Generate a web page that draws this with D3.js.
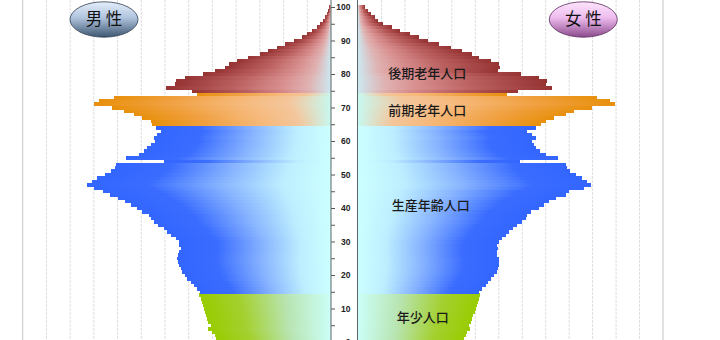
<!DOCTYPE html>
<html lang="ja">
<head>
  <meta charset="utf-8">
  <title>人口ピラミッド</title>
  <script src="https://d3js.org/d3.v7.min.js"></script>
  <style>
    body { margin: 0; background: #fff; }
    svg { display: block; }
  </style>
</head>
<body>

<svg width="720" height="340"></svg>

<script>
  // 年齢 (0〜100歳)
  const ages = d3.range(0, 101);

  // 男性 人口 (人)
  const male = [
    4750, 4830, 4910, 5000, 5170, 5080, 5170, 5210, 5250, 5300,
    5340, 5380, 5420, 5470, 5550, 5510, 5640, 5760, 5890, 6060,
    6140, 6270, 6310, 6400, 6440, 6480, 6440, 6400, 6310, 6400,
    6400, 6530, 6740, 6910, 7030, 7290, 7460, 7580, 7670, 7970,
    8180, 8430, 8690, 8980, 9320, 9620, 10000, 10300, 10080, 9870,
    9530, 9280, 9110, 9070, 7030, 8640, 8090, 7880, 7750, 7580,
    7410, 7460, 7330, 7160, 7370, 7540, 7580, 7970, 8300, 8730,
    9240, 10000, 9790, 9150, 5640, 5850, 6950, 6570, 6530, 6140,
    5380, 4910, 4450, 4280, 3980, 3520, 3010, 2670, 2290, 1950,
    1570, 1230, 1020, 810, 590, 470, 330, 250, 180, 110,
    80
  ];

  // 女性 人口 (人)
  const female = [
    4450, 4530, 4620, 4660, 4790, 4750, 4830, 4870, 4920, 5000,
    5040, 5080, 5130, 5170, 5210, 5170, 5300, 5470, 5550, 5680,
    5800, 5930, 5970, 6020, 6020, 6020, 5930, 5930, 5970, 5930,
    6020, 6140, 6310, 6440, 6610, 6780, 6990, 7160, 7200, 7370,
    7710, 7920, 8140, 8430, 8860, 8980, 9620, 9910, 9750, 9530,
    9280, 9020, 8900, 8860, 6910, 8520, 8010, 7750, 7580, 7500,
    7410, 7580, 7410, 7200, 7580, 7800, 8010, 8350, 8860, 9190,
    9960, 10970, 10760, 10170, 6360, 6820, 8260, 8010, 8050, 7710,
    6950, 5970, 6060, 6020, 5680, 5170, 4870, 4450, 3980, 3470,
    2970, 2580, 2200, 1780, 1440, 1060, 850, 720, 550, 420,
    300
  ];

  // 年齢区分
  const groupNames = ["年少人口", "生産年齢人口", "前期老年人口", "後期老年人口"];
  const groupFrom = [0, 15, 65, 75];
  const ageTicks = d3.range(0, 101, 5);
  const gridValues = d3.range(1000, 13001, 1000);

  const svg = d3.select("svg");
  const width = +svg.attr("width");
  const height = +svg.attr("height");

  // scales
  const y = d3.scaleLinear().domain([0, 100]).range([342, 7]);
  const xL = d3.scaleLinear().domain([0, 13000]).range([331, 22.7]);
  const xR = d3.scaleLinear().domain([0, 13000]).range([358, 663]);

  const groupOf = a => d3.bisectRight(groupFrom, a) - 1;

  // gradients (outer colour -> inner colour)
  const palette = [
    [[0, "#99cc00"], [0.3, "#a4d030"], [0.65, "#b8e4b0"], [1, "#ccfff8"]],
    [[0, "#3366ff"], [0.25, "#3a6cff"], [0.55, "#88b4ff"], [0.8, "#bdeeff"], [1, "#ccffff"]],
    [[0, "#e8900c"], [0.3, "#f0a040"], [0.6, "#f6b878"], [0.82, "#f4c69c"], [1, "#c8f8f0"]],
    [[0, "#963333"], [0.4, "#bb6060"], [0.7, "#d99090"], [0.86, "#e0b2b2"], [1, "#cde8f0"]]
  ];

  const defs = svg.append("defs");
  palette.forEach((stops, i) => {
    const gl = defs.append("linearGradient").attr("id", `gL${i}`);
    stops.forEach(([o, c]) => gl.append("stop").attr("offset", o).attr("stop-color", c));
    const gr = defs.append("linearGradient").attr("id", `gR${i}`);
    stops.slice().reverse().forEach(([o, c]) => gr.append("stop").attr("offset", 1 - o).attr("stop-color", c));
  });

  // ellipse gradients
  const mg = defs.append("linearGradient").attr("id", "maleTitle")
    .attr("x1", 0).attr("y1", 0).attr("x2", 0).attr("y2", 1);
  mg.append("stop").attr("offset", 0).attr("stop-color", "#e4eefa");
  mg.append("stop").attr("offset", 0.45).attr("stop-color", "#b0c4de");
  mg.append("stop").attr("offset", 1).attr("stop-color", "#3e5670");
  const fg = defs.append("linearGradient").attr("id", "femaleTitle")
    .attr("x1", 0).attr("y1", 0).attr("x2", 0).attr("y2", 1);
  fg.append("stop").attr("offset", 0).attr("stop-color", "#fce4fc");
  fg.append("stop").attr("offset", 0.45).attr("stop-color", "#eebcee");
  fg.append("stop").attr("offset", 1).attr("stop-color", "#8c4a8c");

  svg.append("rect").attr("width", width).attr("height", height).attr("fill", "#fff");

  // grid
  const grid = svg.append("g");
  gridValues.forEach(v => {
    const last = v === 13000;
    [xL(v), xR(v)].forEach(x => {
      grid.append("line")
        .attr("x1", x).attr("x2", x).attr("y1", 0).attr("y2", height)
        .attr("stroke", last ? "#c4c4c4" : "#dedede")
        .attr("stroke-width", 1)
        .attr("stroke-dasharray", last ? null : "3,1");
    });
  });

  const barH = y(0) - y(1);

  // male bars
  svg.append("g").attr("shape-rendering", "crispEdges")
    .selectAll("rect")
    .data(ages)
    .join("rect")
    .attr("x", a => xL(male[a]))
    .attr("y", a => y(a + 0.5))
    .attr("width", a => xL(0) - xL(male[a]))
    .attr("height", barH + 0.5)
    .attr("fill", a => `url(#gL${groupOf(a)})`);

  // female bars
  svg.append("g").attr("shape-rendering", "crispEdges")
    .selectAll("rect")
    .data(ages)
    .join("rect")
    .attr("x", xR(0))
    .attr("y", a => y(a + 0.5))
    .attr("width", a => xR(female[a]) - xR(0))
    .attr("height", barH + 0.5)
    .attr("fill", a => `url(#gR${groupOf(a)})`);

  // centre column
  svg.append("rect")
    .attr("x", xL(0)).attr("y", 0)
    .attr("width", xR(0) - xL(0)).attr("height", height)
    .attr("fill", "#fff");

  const axis = d3.axisRight(y)
    .tickValues(ageTicks)
    .tickSize(4)
    .tickSizeOuter(0)
    .tickFormat(d => d % 10 === 0 ? d : "");

  const ax = svg.append("g")
    .attr("transform", `translate(${xL(0)},0)`)
    .call(axis);
  ax.select(".domain").remove();
  ax.selectAll(".tick line").attr("stroke", "#555");
  ax.selectAll(".tick text")
    .attr("x", 19.5)
    .attr("text-anchor", "end")
    .attr("font-family", "Liberation Sans, Arial, sans-serif")
    .attr("font-size", 8.5)
    .attr("font-weight", "bold")
    .attr("fill", "#222");

  [xL(0), xR(0) - 0.5].forEach(x => {
    svg.append("line")
      .attr("x1", x).attr("x2", x).attr("y1", 0).attr("y2", height)
      .attr("stroke", "#5c6666").attr("stroke-width", 1);
  });

  // group labels
  const labelPos = [[396.7, 7.3], [391.7, 40.7], [388.3, 69.3], [388.3, 80.3]];
  groupNames.forEach((name, i) => {
    svg.append("text")
      .attr("x", labelPos[i][0])
      .attr("y", y(labelPos[i][1]))
      .attr("dy", "0.36em")
      .attr("font-family", "Noto Sans CJK JP, sans-serif")
      .attr("font-size", 13)
      .attr("font-weight", 500)
      .attr("fill", "#1a1a1a")
      .text(name);
  });

  // 男性 / 女性
  const titles = [
    { text: "男 性", cx: 104, fill: "url(#maleTitle)", stroke: "#2e3e52" },
    { text: "女 性", cx: 583.3, fill: "url(#femaleTitle)", stroke: "#5a2a5a" }
  ];
  titles.forEach(t => {
    svg.append("ellipse")
      .attr("cx", t.cx).attr("cy", 19.5)
      .attr("rx", 34).attr("ry", 17.7)
      .attr("fill", t.fill)
      .attr("stroke", t.stroke)
      .attr("stroke-width", 0.8);
    svg.append("text")
      .attr("x", t.cx).attr("y", 19.5)
      .attr("dy", "0.36em")
      .attr("text-anchor", "middle")
      .attr("font-family", "Noto Sans CJK JP, sans-serif")
      .attr("font-size", 16.5)
      .attr("fill", "#111")
      .text(t.text);
  });
</script>
</body>
</html>
